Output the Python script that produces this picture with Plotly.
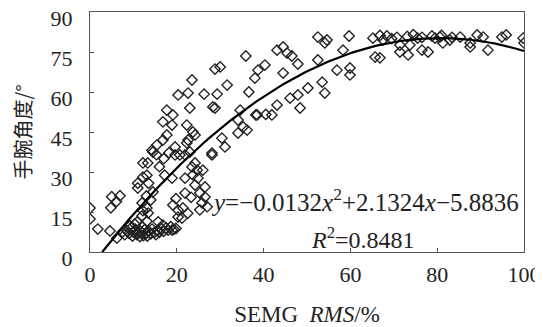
import plotly.graph_objects as go
import numpy as np

# Scatter data: SEMG RMS (%) vs wrist angle (deg)
rms = [
    0, 0, 1.8, 4.6, 6.2, 5.0, 6.9, 6.1, 4.8,
    7.5, 8, 8.5, 9, 9.5, 9.8, 10, 10.5, 10.8, 11, 11.5, 11.5, 12, 12.3, 12.6, 13, 13.2, 13.5, 14, 14.3,
    14.8, 15.2, 15.5, 16, 16.4, 17, 17.5, 18, 18.6, 19.3, 19.8, 9.2, 10.3, 12,
    10.9, 15.7, 16.8, 18.9, 13.1, 12,
    11, 12.2, 13.1, 11, 13.5, 14.5, 12.2, 13.3, 14.5, 15.3, 12, 13.1, 13.4, 12.2, 14, 13,
    14.3, 15.4, 16.8, 17.7, 16.8, 18.9, 17.7, 19.1, 20.3, 22.6, 23.5, 23, 22.3, 24.2, 19.6, 22.3, 23, 20.7,
    18.2, 17, 16,
    18.9, 17.2, 19.6, 21.9, 21.9, 21.9, 19.1, 20.3, 21.4, 20.3, 21.2, 22.5, 19.8,
    30, 28.8, 31.6, 26.3, 29.3, 28.8, 23.7, 22.6, 30.4, 31.1, 28.1, 28.3, 28.1,
    24.2, 23.5, 24.7, 26, 23.7, 24.9, 24.2, 26.5, 25.3, 26.5, 25.8, 27, 25.3, 23.3,
    35.9, 43.1, 44.5, 45.4, 46.5, 47.9, 40.3, 38.7, 38, 36.6, 44.5, 48.4, 43.1, 41.9, 38.2, 34.6, 34.1,
    35.3, 36.2, 34.1, 38.5, 40.5, 50.2, 47.9, 46.1,
    52.5, 54.1, 59.7, 52.5, 58.3, 56.9, 59.9, 59.9, 53.5, 54.1, 54.6,
    65.2, 66.8, 65.7, 66.8, 67.5, 68.4, 70.7, 71.4, 73.7, 71.4, 73.3, 73.1, 74.5, 76.5, 77.9, 76.5, 78.8,
    79.5, 80.6, 81.3, 81, 82.9, 85.3, 87.6, 87.6, 89.2, 90.6, 91.7, 94.9, 95.9, 99.8, 100, 83.4, 69.5, 75.5,
]
angle = [
    16.5, 12.4, 8.6, 7.9, 5.2, 20.7, 21.1, 18.9, 16.6,
    7.5, 6.5, 8, 7, 9, 6, 7.5, 8.5, 6.5, 7, 5.8, 8, 7.2, 6.2, 8.4, 7, 6, 7.8, 6.8, 8.6,
    7.3, 6.5, 8, 7.4, 8.8, 7.8, 9, 8.2, 9.5, 8.5, 8.8, 9.8, 10.5, 9.6,
    11.3, 11.3, 10.1, 8.2, 11.5, 13.5,
    25.8, 28.1, 28.8, 24, 25.8, 22.5, 33.4, 33.4, 37.5, 36.5, 18.4, 16.5, 14.6, 15.5, 19.5, 21,
    38.2, 40.1, 42, 43.9, 48.8, 47.6, 53.2, 51.4, 58.9, 59.6, 64.5, 54, 47.6, 43.9, 39.4, 40.9, 37.5, 36.4,
    37.2, 35, 32,
    27.7, 28.8, 36.4, 36.4, 27.7, 22.1, 17.6, 15.7, 16.5, 13.1, 12.7, 14.5, 20,
    69.4, 68.6, 62.6, 59.2, 59.2, 54, 45, 42, 42.7, 39.4, 36.4, 54.4, 37.1,
    33.4, 31.9, 30.7, 30.7, 28.9, 27.7, 25.1, 24.4, 22.1, 20.6, 18.4, 17, 15.8, 20.5,
    73.5, 75.7, 76.9, 74.6, 73.5, 70.5, 70.1, 68.2, 65.2, 60, 67.1, 54, 55.1, 51.4, 51.4, 53.2, 49.5,
    46.9, 45.7, 44.6, 51.4, 51.6, 61.5, 58.9, 57.7,
    80.6, 78.4, 81, 72, 75.7, 68.2, 69, 66.4, 63.7, 59.6, 79.5,
    80.2, 81.2, 73.1, 72.8, 79.5, 81, 80.5, 77.6, 77.6, 75, 73.9, 80.8, 81.5, 75.7, 75, 80.5, 81,
    80.2, 80.6, 78.4, 81.2, 79.5, 80.6, 78.4, 76.9, 81.4, 80.6, 75.7, 80.6, 81.4, 80.2, 78.4, 80.5, 80.0, 80.2,
]

# Fitted quadratic: y = a x^2 + b x + c
fit_coef = [-0.0132, 2.1324, -5.8836]

x_ticks = [0, 20, 40, 60, 80, 100]
y_ticks = [0, 15, 30, 45, 60, 75, 90]

a, b, c = fit_coef
x0 = (-b + np.sqrt(b * b - 4 * a * c)) / (2 * a)
xf = np.linspace(x0, 100, 200)
yf = a * xf ** 2 + b * xf + c

fig = go.Figure()
fig.add_trace(go.Scatter(
    x=rms, y=angle, mode="markers",
    marker=dict(symbol="diamond-open", size=8, color="#222", line=dict(width=1.4, color="#222")),
    showlegend=False,
))
fig.add_trace(go.Scatter(
    x=xf, y=yf, mode="lines",
    line=dict(color="black", width=2.2),
    showlegend=False,
))

serif = "Liberation Serif"
axis_common = dict(
    showgrid=False, zeroline=False, showline=True, mirror=True, automargin=False,
    linecolor="#555", linewidth=1, ticks="inside", ticklen=4, tickcolor="#555",
    tickfont=dict(family=serif, size=22, color="#222"), ticklabeloverflow="allow",
)
fig.update_xaxes(range=[0, 100], tickvals=x_ticks, ticklabelstandoff=3,
                 title=dict(text="SEMG&nbsp; <i>RMS</i>/%", font=dict(family=serif, size=23, color="#222"), standoff=19),
                 **axis_common)
fig.update_yaxes(range=[0, 90], tickvals=y_ticks, ticklabelstandoff=12, ticklabelshift=6,
                 title=dict(text="手腕角度/°", font=dict(family="Noto Sans CJK SC", size=20, color="#222"), standoff=20),
                 **axis_common)

fig.add_annotation(
    xref="paper", yref="paper", x=0.993, y=0.217, xanchor="right", yanchor="middle",
    text="<i>y</i>=−0.0132<i>x</i><sup>2</sup>+2.1324<i>x</i>−5.8836",
    showarrow=False, font=dict(family=serif, size=25, color="#222"),
)
fig.add_annotation(
    xref="paper", yref="paper", x=0.505, y=0.058, xanchor="left", yanchor="middle",
    text="<i>R</i><sup>2</sup>=0.8481",
    showarrow=False, font=dict(family=serif, size=24, color="#222"),
)

# page body has an ~8px margin; compensate so the plot box lands where the reference has it
fig.update_layout(
    width=535, height=319,
    margin=dict(l=82, r=19, t=4, b=75),
    paper_bgcolor="white", plot_bgcolor="white",
)
fig.write_html("out.html")
